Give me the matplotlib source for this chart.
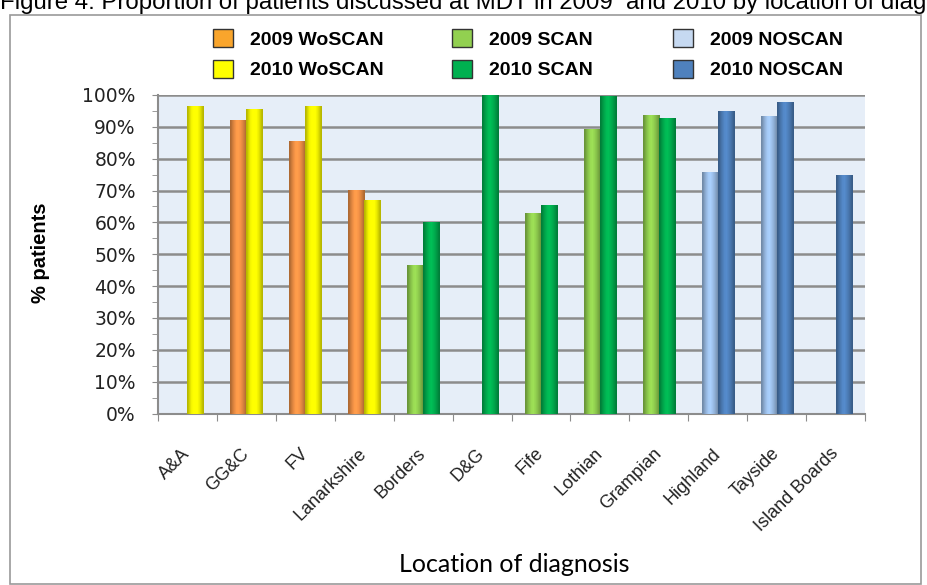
import matplotlib
matplotlib.use("Agg")
import matplotlib.pyplot as plt
import numpy as np
from matplotlib.patches import Patch, Rectangle
from matplotlib.ticker import FixedLocator, PercentFormatter

W, H = 927, 585

locations = ["A&A", "GG&C", "FV", "Lanarkshire", "Borders", "D&G", "Fife",
             "Lothian", "Grampian", "Highland", "Tayside", "Island Boards"]

# proportion of patients discussed at MDT (None = no bar)
woscan_2009 = [None, 0.92, 0.857, 0.703, None, None, None, None, None, None, None, None]
woscan_2010 = [0.965, 0.957, 0.965, 0.67, None, None, None, None, None, None, None, None]
scan_2009 = [None, None, None, None, 0.466, None, 0.63, 0.892, 0.937, None, None, None]
scan_2010 = [None, None, None, None, 0.60, 1.0, 0.655, 0.997, 0.927, None, None, None]
noscan_2009 = [None, None, None, None, None, None, None, None, None, 0.759, 0.935, None]
noscan_2010 = [None, None, None, None, None, None, None, None, None, 0.95, 0.979, 0.749]

series = [
    ("2009 WoSCAN", woscan_2009, 2009, "#F39246", "#F9A52C"),
    ("2010 WoSCAN", woscan_2010, 2010, "#FFFF00", "#FFFF00"),
    ("2009 SCAN", scan_2009, 2009, "#92D050", "#92D050"),
    ("2010 SCAN", scan_2010, 2010, "#00B050", "#00B050"),
    ("2009 NOSCAN", noscan_2009, 2009, "#9DC0EA", "#C6D9F1"),
    ("2010 NOSCAN", noscan_2010, 2010, "#4F81BD", "#4F81BD"),
]

bar_w = 0.272
shade = np.array([0.72, 0.86, 0.97, 1.06, 1.08, 1.02, 0.94, 0.84, 0.72])


def px(x, y):
    return x / W, 1 - y / H


fig = plt.figure(figsize=(W / 100, H / 100), dpi=100)
ax = fig.add_axes([158 / W, 1 - 413.5 / H, (865 - 158) / W, (413.5 - 95) / H])
ax.set_facecolor("#E6EEF8")

x = np.arange(len(locations))
for name, vals, year, color, _ in series:
    offset = -bar_w / 2 if year == 2009 else bar_w / 2
    heights = [np.nan if v is None else v for v in vals]
    bars = ax.bar(x + offset, heights, width=bar_w, color=color, zorder=3)
    rgb = np.array(matplotlib.colors.to_rgb(color))
    img = np.clip(shade[:, None] * rgb[None, :], 0, 1)[None, :, :]
    for b in bars:
        h = b.get_height()
        if np.isnan(h):
            continue
        x0 = b.get_x()
        ax.imshow(img, extent=(x0, x0 + b.get_width(), 0, h), aspect="auto",
                  interpolation="bilinear", zorder=4)

ax.set_xlim(-0.5, len(locations) - 0.5)
ax.set_ylim(0, 1)

ax.yaxis.set_major_locator(FixedLocator(np.arange(0, 1.01, 0.1)))
ax.yaxis.set_minor_locator(FixedLocator(np.arange(0.05, 1.0, 0.1)))
ax.yaxis.set_major_formatter(PercentFormatter(1.0, decimals=0))
ax.yaxis.grid(True, color="#8C8C8C", lw=1.8)
ax.set_axisbelow(True)
ax.tick_params(axis="y", which="both", direction="out", length=4, color="#8C8C8C",
               labelsize=13.5, pad=12, labelcolor="#222222")

ax.xaxis.set_major_locator(FixedLocator(np.arange(-0.5, len(locations), 1.0)))
ax.xaxis.set_minor_locator(FixedLocator(x))
ax.xaxis.set_major_formatter(plt.NullFormatter())
ax.set_xticks(x, locations, minor=True)
ax.tick_params(axis="x", which="major", direction="out", length=5, color="#8C8C8C")
ax.tick_params(axis="x", which="minor", length=0, pad=27, labelsize=13, labelcolor="#222222")
for lbl in ax.get_xticklabels(minor=True):
    lbl.set_fontfamily("Liberation Sans")
    lbl.set_rotation(45)
    lbl.set_ha("right")
    lbl.set_va("center")
    lbl.set_rotation_mode("anchor")

for side in ("top", "right"):
    ax.spines[side].set_visible(False)
for side in ("left", "bottom"):
    ax.spines[side].set_color("#8C8C8C")
    ax.spines[side].set_linewidth(1.5)

# legend: three columns of two entries
legend_x = [213, 452, 673]
for col in range(3):
    handles = []
    for name, vals, year, color, lcolor in series[col * 2: col * 2 + 2]:
        handles.append(Patch(facecolor=lcolor, edgecolor="#333333", lw=1.0, label=name))
    leg = fig.legend(handles=handles, loc="upper left",
                     bbox_to_anchor=px(legend_x[col], 29), bbox_transform=fig.transFigure,
                     frameon=False, borderpad=0, borderaxespad=0,
                     handlelength=1.03, handleheight=1.08, handletextpad=0.85,
                     labelspacing=0.55, prop={"family": "Liberation Sans", "weight": "bold", "size": 14})

fig.text(*px(40, 253), "% patients", rotation=90, ha="center", va="center",
         fontfamily="Liberation Sans", fontweight="bold", fontsize=14.5)
fig.text(*px(514, 565), "Location of diagnosis", ha="center", va="center",
         fontfamily="Lato", fontsize=18)
fig.text(*px(0, 9), "Figure 4: Proportion of patients discussed at MDT in 2009  and 2010 by location of diagnosis",
         ha="left", va="baseline", fontfamily="Liberation Sans", fontsize=17.3)

fig.patches.append(Rectangle(px(10, 584), (921 - 10) / W, (584 - 15) / H,
                             transform=fig.transFigure, fill=False, edgecolor="#9A9A9A", lw=1.2))

fig.savefig("out.png", dpi=100)
